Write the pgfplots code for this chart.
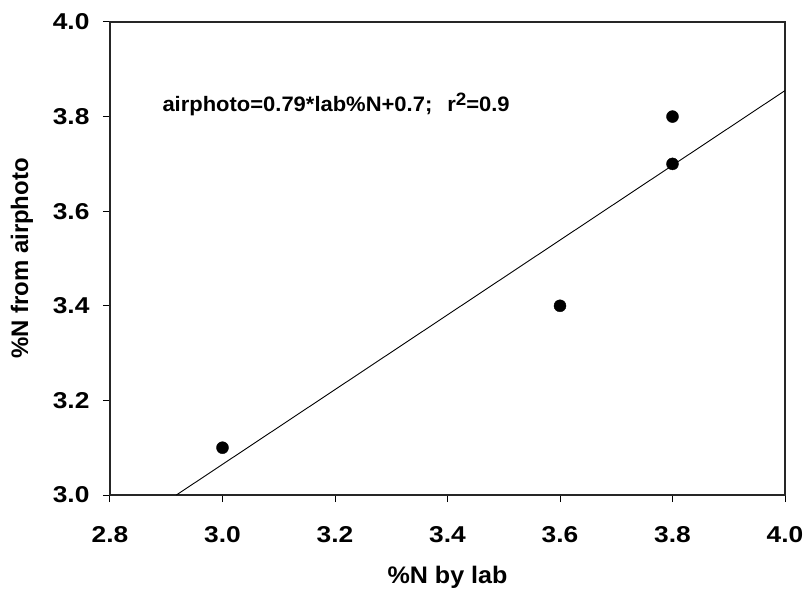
\documentclass[border=0pt]{standalone}
\usepackage{fontspec}
\setmainfont{Liberation Sans}
\newfontfamily\tickfont{Liberation Sans}[FakeStretch=1.15]
\newfontfamily\labfont{Liberation Sans}[FakeStretch=1.05]
\usepackage{pgfplots}
\pgfplotsset{compat=1.18}
\begin{document}
\begin{tikzpicture}
\begin{axis}[
  name=ax,
  scale only axis,
  width=675bp, height=473bp,
  xmin=2.8, xmax=4.0, ymin=3.0, ymax=4.0,
  xtick={2.8,3.0,3.2,3.4,3.6,3.8,4.0},
  ytick={3.0,3.2,3.4,3.6,3.8,4.0},
  xticklabel style={/pgf/number format/fixed,/pgf/number format/fixed zerofill,/pgf/number format/precision=1},
  yticklabel style={/pgf/number format/fixed,/pgf/number format/fixed zerofill,/pgf/number format/precision=1},
  /pgf/number format/assume math mode=true,
  tick label style={font=\tickfont\fontsize{23}{25}\selectfont\bfseries, text=black},
  xticklabel style={yshift=-21bp},
  yticklabel style={xshift=-10bp},
  tick pos=left,
  tick align=outside,
  major tick length=7bp,
  every tick/.style={black, line width=1bp},
  axis line style={line width=1.2bp, black!85},
  xlabel={\%N by lab},
  ylabel={\%N from airphoto},
  xlabel style={font=\labfont\fontsize{24}{26}\selectfont\bfseries, yshift=-17bp},
  ylabel style={font=\fontsize{24}{26}\selectfont\bfseries, yshift=13bp},
  clip=false,
]
\addplot[only marks, mark=*, mark size=6bp, black] coordinates {
  (3.0,3.1) (3.6,3.4) (3.8,3.8) (3.8,3.7)
};
\addplot[black, line width=0.9bp, no marks] coordinates {
  (2.918,3.0) (4.0,3.855)
};
\node[anchor=base west, font=\labfont\fontsize{21}{23}\selectfont\bfseries, inner sep=0pt] at (axis cs:2.893,3.81) {airphoto=0.79*lab\%N+0.7;\hspace{15bp}r\raisebox{6bp}{\fontsize{18}{18}\selectfont 2}=0.9};
\end{axis}
\pgfresetboundingbox
\path[use as bounding box] ([shift={(-110bp,-97bp)}]ax.south west) rectangle ([shift={(22bp,22bp)}]ax.north east);
\end{tikzpicture}
\end{document}
